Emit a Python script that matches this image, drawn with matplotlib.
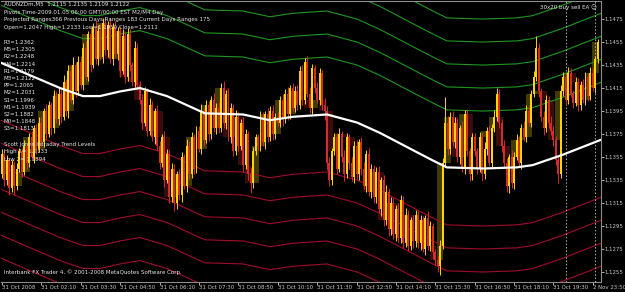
import numpy as np
import matplotlib.pyplot as plt

FONT = ['DejaVu Sans']
STRETCH = 'condensed'

# M5 closes, 31 Oct 2008 00:50 onward (one value per bar)
closes = [
    1.1358, 1.1335, 1.1352, 1.1328, 1.1348, 1.1330, 1.1345, 1.1360,
    1.1342, 1.1365, 1.1350, 1.1372, 1.1355, 1.1380, 1.1362, 1.1385,
    1.1368, 1.1395, 1.1375, 1.1400, 1.1380, 1.1408, 1.1388, 1.1410,
    1.1390, 1.1420, 1.1395, 1.1430, 1.1405, 1.1435, 1.1412, 1.1438,
    1.1418, 1.1450, 1.1425, 1.1462, 1.1435, 1.1468, 1.1440, 1.1465,
    1.1442, 1.1472, 1.1448, 1.1470, 1.1440, 1.1468, 1.1445, 1.1465,
    1.1430, 1.1460, 1.1425, 1.1462, 1.1435, 1.1420, 1.1450, 1.1418,
    1.1405, 1.1385, 1.1412, 1.1378, 1.1400, 1.1372, 1.1395, 1.1365,
    1.1350, 1.1372, 1.1335, 1.1358, 1.1320, 1.1345, 1.1315, 1.1340,
    1.1322, 1.1355, 1.1330, 1.1365, 1.1340, 1.1372, 1.1345, 1.1378,
    1.1362, 1.1395, 1.1370, 1.1400, 1.1375, 1.1405, 1.1380, 1.1398,
    1.1380, 1.1415, 1.1385, 1.1410, 1.1372, 1.1398, 1.1360, 1.1390,
    1.1365, 1.1385, 1.1348, 1.1375, 1.1340, 1.1332, 1.1360, 1.1372,
    1.1365, 1.1390, 1.1368, 1.1392, 1.1372, 1.1395, 1.1375, 1.1390,
    1.1385, 1.1405, 1.1388, 1.1410, 1.1392, 1.1415, 1.1398, 1.1412,
    1.1400, 1.1430, 1.1405, 1.1438, 1.1410, 1.1398, 1.1432, 1.1415,
    1.1405, 1.1428, 1.1400, 1.1395, 1.1350, 1.1335, 1.1360, 1.1372,
    1.1345, 1.1375, 1.1355, 1.1340, 1.1372, 1.1350, 1.1338, 1.1365,
    1.1340, 1.1368, 1.1345, 1.1330, 1.1358, 1.1325, 1.1345, 1.1320,
    1.1342, 1.1310, 1.1335, 1.1300, 1.1325, 1.1292, 1.1315, 1.1288,
    1.1310, 1.1285, 1.1318, 1.1280, 1.1305, 1.1278, 1.1300, 1.1282,
    1.1305, 1.1280, 1.1300, 1.1275, 1.1302, 1.1278, 1.1295, 1.1272,
    1.1265, 1.1260, 1.1278, 1.1350, 1.1385, 1.1362, 1.1390, 1.1368,
    1.1385, 1.1355, 1.1380, 1.1345, 1.1392, 1.1360, 1.1340, 1.1372,
    1.1360, 1.1345, 1.1372, 1.1340, 1.1362, 1.1378, 1.1350, 1.1380,
    1.1390, 1.1410, 1.1385, 1.1365, 1.1350, 1.1330, 1.1355, 1.1332,
    1.1355, 1.1370, 1.1350, 1.1380, 1.1372, 1.1395, 1.1385, 1.1410,
    1.1425, 1.1450, 1.1412, 1.1390, 1.1380, 1.1405, 1.1385, 1.1378,
    1.1370, 1.1352, 1.1340, 1.1412, 1.1425, 1.1405, 1.1428, 1.1410,
    1.1402, 1.1420, 1.1400, 1.1418, 1.1405, 1.1425, 1.1408, 1.1428,
    1.1415, 1.1440, 1.1455,
]
first_open = 1.1340

# wick lengths in pips above / below the body
upper_wick = [
    4, 3, 5, 2, 4, 3, 5, 3,  3, 5, 2, 4, 6, 3, 4, 5,  5, 3, 6, 4, 3, 5, 4, 6,
    4, 6, 3, 5, 4, 7, 3, 5,  5, 4, 6, 3, 5, 4, 6, 5,  6, 4, 5, 3, 6, 4, 5, 3,
    4, 6, 3, 5, 4, 3, 6, 4,  3, 5, 4, 3, 6, 4, 3, 5,  4, 3, 6, 4, 3, 5, 4, 3,
    5, 4, 3, 6, 4, 5, 3, 4,  4, 6, 3, 5, 4, 3, 6, 4,  5, 4, 6, 3, 5, 4, 3, 6,
    4, 3, 5, 4, 3, 6, 4, 3,  3, 5, 4, 3, 6, 4, 5, 3,  4, 3, 5, 4, 6, 3, 4, 5,
    6, 4, 5, 3, 5, 6, 4, 3,  5, 4, 3, 6, 4, 5, 3, 4,  4, 5, 3, 6, 4, 3, 5, 4,
    5, 3, 4, 6, 3, 5, 4, 3,  4, 5, 3, 4, 6, 3, 5, 4,  3, 5, 4, 3, 6, 4, 3, 5,
    4, 3, 5, 4, 3, 6, 4, 3,  3, 4, 5, 4, 22, 6, 4, 5, 5, 4, 3, 6, 4, 5, 3, 4,
    4, 3, 5, 4, 6, 3, 5, 4,  6, 5, 4, 3, 5, 4, 3, 6,  4, 5, 3, 4, 6, 5, 4, 3,
    5, 10, 4, 3, 5, 4, 3, 6, 4, 3, 5, 6, 4, 3, 5, 4,  3, 5, 4, 3, 5, 4, 3, 5,
    4, 3, 3,
]
lower_wick = [
    3, 5, 4, 6, 3, 8, 4, 3,  4, 3, 5, 4, 3, 5, 4, 3,  3, 4, 5, 3, 6, 4, 3, 5,
    5, 3, 4, 6, 3, 4, 5, 3,  4, 5, 3, 4, 6, 3, 4, 5,  3, 5, 4, 6, 3, 5, 4, 6,
    5, 3, 6, 4, 5, 3, 4, 5,  4, 6, 3, 5, 4, 3, 6, 4,  5, 4, 6, 3, 5, 4, 7, 5,
    4, 6, 3, 5, 4, 3, 5, 4,  3, 4, 5, 3, 6, 4, 3, 5,  4, 3, 5, 6, 3, 5, 4, 3,
    5, 4, 6, 3, 5, 8, 4, 3,  4, 5, 3, 6, 4, 3, 5, 4,  3, 4, 6, 3, 5, 4, 3, 4,
    4, 3, 5, 4, 3, 5, 6, 4,  3, 5, 4, 8, 6, 5, 4, 3,  5, 3, 4, 6, 3, 5, 4, 6,
    4, 5, 6, 3, 5, 4, 6, 5,  5, 4, 6, 5, 4, 6, 5, 4,  6, 4, 5, 4, 3, 5, 4, 6,
    5, 4, 6, 3, 5, 4, 5, 6,  4, 5, 8, 3, 4, 5, 4, 3,  5, 4, 6, 3, 5, 4, 6, 5,
    4, 5, 3, 6, 4, 5, 3, 4,  3, 4, 5, 6, 4, 5, 6, 4,  5, 3, 4, 5, 3, 4, 3, 4,
    3, 4, 5, 4, 6, 3, 5, 4,  5, 4, 8, 3, 4, 5, 4, 3,  4, 3, 5, 4, 3, 5, 4, 3,
    3, 4, 3,
]

# white moving average, sampled along the chart (bar index, price)
ma_bar = [-0.4, 12.6, 23.6, 32.9, 39.8, 47.9, 56.0, 67.0, 82.4, 97.9, 108.8, 118.2,
          132.0, 144.2, 153.5, 166.9, 175.0, 180.7, 195.3, 209.1, 215.6, 227.8, 243.3]
ma_price = [1.1437, 1.1425, 1.1415, 1.1408, 1.1408, 1.1412, 1.1415, 1.1408, 1.1393,
            1.1392, 1.1387, 1.1390, 1.1392, 1.1385, 1.1376, 1.1361, 1.1352, 1.1346,
            1.1345, 1.1346, 1.1348, 1.1357, 1.1370]
# trend level bands around the average (price offsets)
band_offsets = [0.0050, 0.0070, 0.0090, 0.0110, 0.0130, 0.0150, 0.0170]

tick_bars = list(range(0, 241, 16))
tick_labels = ['31 Oct 2008', '31 Oct 02:10', '31 Oct 03:30', '31 Oct 04:50',
               '31 Oct 06:10', '31 Oct 07:30', '31 Oct 08:50', '31 Oct 10:10',
               '31 Oct 11:30', '31 Oct 12:50', '31 Oct 14:10', '31 Oct 15:30',
               '31 Oct 16:50', '31 Oct 18:10', '31 Oct 19:30', '2 Nov 23:50']
price_ticks = [1.1255, 1.1275, 1.1295, 1.1315, 1.1335, 1.1355, 1.1375,
               1.1395, 1.1415, 1.1435, 1.1455, 1.1475]
separators = [229, 241]

header_lines = ['AUDNZDm,M5  1.2115 1.2135 1.2109 1.2122',
                'Pivots Time-2009.01.05 06:00 GMT/00:00 EST M2/M4 Day',
                'Projected Ranges366 Previous Days Ranges 183 Current Days Ranges 175',
                'Open=1.2047 High=1.2133 Low=1.1950 Close=1.2111']
pivot_names = ['R3', 'M5', 'R2', 'M4', 'R1', 'M3', 'PP', 'M2', 'S1', 'M1', 'S2', 'M0', 'S3']
pivot_values = ['1.2362', '1.2305', '1.2248', '1.2214', '1.2179', '1.2122', '1.2065',
                '1.2031', '1.1996', '1.1939', '1.1882', '1.1848', '1.1813']
trend_lines = ['Scott Jones Intraday Trend Levels', 'High 2= 1.2133', 'Low 2= 1.1894']

c = np.array(closes)
o = np.concatenate([[first_open], c[:-1]])
hi = np.maximum(o, c) + np.array(upper_wick) * 0.0001
lo = np.minimum(o, c) - np.array(lower_wick) * 0.0001
x = np.arange(len(c))
bull = c >= o

fig = plt.figure(figsize=(6.25, 2.92), dpi=100, facecolor='black')
ax = fig.add_axes([1 / 625, 10 / 292, 600 / 625, 281 / 292])
ax.set_facecolor('black')

# bands
ma_bar = np.array(ma_bar)
ma_price = np.array(ma_price)
for off in band_offsets:
    ax.plot(ma_bar, ma_price + off, color='#1f961f', lw=0.8, zorder=2)
    ax.plot(ma_bar, ma_price - off, color='#a00c2c', lw=0.8, zorder=2)

# 15-min candles drawn faintly behind
g = len(c) // 3
o3 = o[:g * 3:3]
c3 = c[2:g * 3:3]
x3 = x[1:g * 3:3]
up3 = c3 >= o3
ax.bar(x3, c3 - o3, bottom=o3, width=2.6,
       color=np.where(up3, '#7a6a00', '#6a1818'), alpha=0.55, zorder=1)

# 5-min candles
col = np.where(bull, '#ffd400', '#d42c2c')
ax.vlines(x, lo, hi, colors=col, lw=0.7, zorder=3)
body = np.where(np.abs(c - o) < 0.00005, 0.00008, c - o)
ax.bar(x, body, bottom=o, width=0.8, color=col, zorder=3)

ax.plot(ma_bar, ma_price, color='white', lw=1.6, zorder=4)

for s in separators:
    ax.axvline(s, color='#b0b0b0', lw=0.7, ls=(0, (1.5, 2)), zorder=2)

ax.set_xlim(-0.4, 243.3)
ax.set_ylim(1.12463, 1.14907)

ax.yaxis.tick_right()
ax.set_yticks(price_ticks)
ax.set_yticklabels([f'{p:.4f}' for p in price_ticks])
ax.set_xticks(tick_bars)
ax.set_xticklabels(tick_labels, ha='left')
ax.tick_params(colors='#c8c8c8', labelsize=4.3, width=0.6)
ax.tick_params(axis='y', length=2, pad=0.8)
ax.tick_params(axis='x', length=2, pad=0.5)
for lab in ax.get_xticklabels() + ax.get_yticklabels():
    lab.set_family(FONT)
    lab.set_stretch(STRETCH)
for side in ['top', 'right', 'bottom']:
    ax.spines[side].set_color('#8c8c8c')
    ax.spines[side].set_linewidth(0.8)
ax.spines['left'].set_visible(False)


def put(px, py, s, **kw):
    fig.text(px / 625, 1 - py / 292, s, color='#e6e6e6', fontsize=4.4,
             family=FONT, stretch=STRETCH, va='center', **kw)


for i, s in enumerate(header_lines):
    put(4, 4.5 + i * 7.6, s)
for i, (n, v) in enumerate(zip(pivot_names, pivot_values)):
    put(4, 42.5 + i * 7.2, f'{n}={v}')
for i, s in enumerate(trend_lines):
    put(4, 144.5 + i * 7.5, s)
put(4, 272, 'Interbank FX Trader 4, \u00a9 2001-2008 MetaQuotes Software Corp.')
put(597, 7, '30x20 buy sell EA \u263a', ha='right')

fig.savefig('out.png', dpi=100, facecolor='black')
